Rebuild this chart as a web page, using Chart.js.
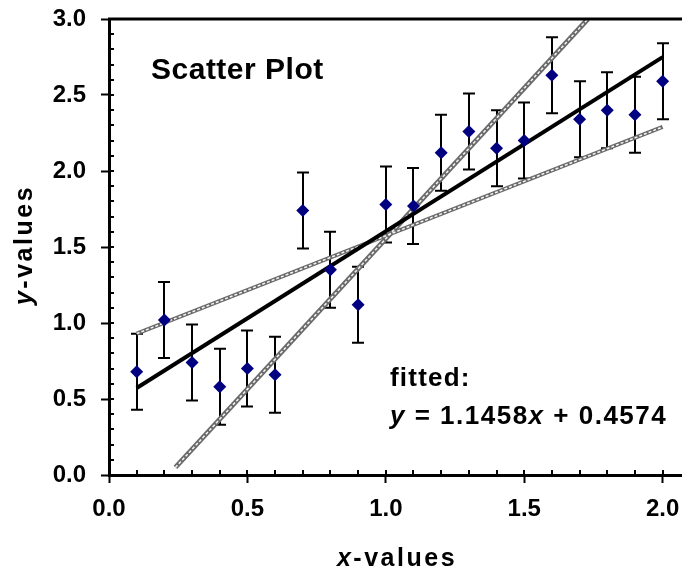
<!DOCTYPE html>
<html>
<head>
<meta charset="utf-8">
<script src="https://cdn.jsdelivr.net/npm/chart.js@4.4.1/dist/chart.umd.min.js"></script>
<style>
  html, body { margin: 0; padding: 0; background: #fff; }
</style>
</head>
<body>
<canvas id="myChart" width="682" height="571"></canvas>
<script>
// measured points
const xVals = [0.1, 0.2, 0.3, 0.4, 0.5, 0.6, 0.7, 0.8, 0.9, 1.0, 1.1, 1.2, 1.3, 1.4, 1.5, 1.6, 1.7, 1.8, 1.9, 2.0];
const yVals = [0.68, 1.02, 0.74, 0.58, 0.70, 0.66, 1.74, 1.35, 1.12, 1.78, 1.77, 2.12, 2.26, 2.15, 2.20, 2.63, 2.34, 2.40, 2.37, 2.59];
const yErr  = [0.25, 0.25, 0.25, 0.25, 0.25, 0.25, 0.25, 0.25, 0.25, 0.25, 0.25, 0.25, 0.25, 0.25, 0.25, 0.25, 0.25, 0.25, 0.25, 0.25];

// fitted line y = 1.1458x + 0.4574, end points
const fitX = [0.1, 2.0];
const fitY = [0.572, 2.749];

// steep and shallow limit lines
const steepX = [0.24, 1.73];
const steepY = [0.05, 3.0];
const flatX = [0.1, 2.0];
const flatY = [0.93, 2.29];

const xTicks = [0.0, 0.5, 1.0, 1.5, 2.0];
const yTicks = [0.0, 0.5, 1.0, 1.5, 2.0, 2.5, 3.0];

const FONT = '"Liberation Sans", Arial, sans-serif';

function pts(xs, ys) {
  return xs.map((x, i) => ({x: x, y: ys[i]}));
}

function drawParts(c, parts, x, y, size, spacing) {
  c.letterSpacing = spacing + 'px';
  parts.forEach(p => {
    c.font = (p[1] ? 'italic ' : '') + 'bold ' + size + 'px ' + FONT;
    c.fillText(p[0], x, y);
    x += c.measureText(p[0]).width;
  });
}

function partsWidth(c, parts, size, spacing) {
  c.letterSpacing = spacing + 'px';
  let w = 0;
  parts.forEach(p => {
    c.font = (p[1] ? 'italic ' : '') + 'bold ' + size + 'px ' + FONT;
    w += c.measureText(p[0]).width;
  });
  return w;
}

const decor = {
  id: 'decor',
  beforeDatasetsDraw(chart) {
    const c = chart.ctx, xs = chart.scales.x, ys = chart.scales.y;
    c.save();
    c.strokeStyle = '#000';
    c.lineWidth = 2;
    xVals.forEach((x, i) => {
      const px = Math.round(xs.getPixelForValue(x));
      const top = ys.getPixelForValue(yVals[i] + yErr[i]);
      const bot = ys.getPixelForValue(yVals[i] - yErr[i]);
      c.beginPath();
      c.moveTo(px, top); c.lineTo(px, bot);
      c.moveTo(px - 6, top); c.lineTo(px + 6, top);
      c.moveTo(px - 6, bot); c.lineTo(px + 6, bot);
      c.stroke();
    });
    c.restore();
  },
  afterDraw(chart) {
    const c = chart.ctx, a = chart.chartArea, xs = chart.scales.x, ys = chart.scales.y;
    c.save();
    c.strokeStyle = '#000';
    // top frame line
    c.lineWidth = 3;
    c.beginPath();
    c.moveTo(a.left - 1, a.top);
    c.lineTo(a.right, a.top);
    c.stroke();
    // minor ticks, inside
    c.lineWidth = 2;
    c.beginPath();
    for (let i = 1; i <= 20; i++) {
      const px = Math.round(xs.getPixelForValue(i / 10));
      c.moveTo(px, a.bottom); c.lineTo(px, a.bottom - 5);
    }
    for (let i = 1; i <= 30; i++) {
      const py = Math.round(ys.getPixelForValue(i / 10));
      c.moveTo(a.left, py); c.lineTo(a.left + 5, py);
    }
    c.stroke();

    c.fillStyle = '#000';
    c.textBaseline = 'alphabetic';
    c.textAlign = 'left';
    drawParts(c, [['Scatter Plot', false]], 151, 79, 30, 0.5);
    drawParts(c, [['fitted:', false]], 390, 386, 26, 1.2);
    drawParts(c, [['y', true], [' = 1.1458', false], ['x', true], [' + 0.4574', false]], 390, 424, 26, 1.5);

    // axis titles
    const xt = [['x', true], ['-values', false]];
    const wx = partsWidth(c, xt, 25, 2.5);
    drawParts(c, xt, 397 - wx / 2, 566, 25, 2.5);

    const yt = [['y', true], ['-values', false]];
    const wy = partsWidth(c, yt, 25, 2.5);
    c.translate(32, 245);
    c.rotate(-Math.PI / 2);
    drawParts(c, yt, -wy / 2, 0, 25, 2.5);
    c.restore();
  }
};

const tickFont = {family: FONT, size: 24, weight: 'bold'};

new Chart(document.getElementById('myChart'), {
  type: 'scatter',
  data: {
    datasets: [
      {
        data: pts(xVals, yVals),
        pointStyle: 'rectRot',
        pointRadius: 6.5,
        pointBackgroundColor: '#000080',
        pointBorderColor: '#000080',
        pointBorderWidth: 0,
        order: 0
      },
      {
        data: pts(fitX, fitY),
        showLine: true,
        borderColor: '#000',
        borderWidth: 4,
        pointRadius: 0,
        order: 1
      },
      {
        data: pts(steepX, steepY),
        showLine: true,
        borderColor: '#f4f4f4',
        borderWidth: 1.5,
        borderDash: [3, 2],
        pointRadius: 0,
        order: 2
      },
      {
        data: pts(flatX, flatY),
        showLine: true,
        borderColor: '#f4f4f4',
        borderWidth: 1.5,
        borderDash: [3, 2],
        pointRadius: 0,
        order: 2
      },
      {
        data: pts(steepX, steepY),
        showLine: true,
        borderColor: '#6a6a6a',
        borderWidth: 5,
        pointRadius: 0,
        order: 3
      },
      {
        data: pts(flatX, flatY),
        showLine: true,
        borderColor: '#6a6a6a',
        borderWidth: 4,
        pointRadius: 0,
        order: 3
      }
    ]
  },
  options: {
    responsive: false,
    animation: false,
    layout: {autoPadding: false, padding: {top: 19, left: 0, right: 0, bottom: 0}},
    plugins: {legend: {display: false}, tooltip: {enabled: false}},
    scales: {
      x: {
        type: 'linear',
        min: 0,
        max: 2.07,
        afterBuildTicks: s => { s.ticks = xTicks.map(v => ({value: v})); },
        afterFit: s => { s.height = 96; s.paddingLeft = 0; s.paddingRight = 0; },
        grid: {drawOnChartArea: false, drawTicks: true, tickLength: 8, tickColor: '#000', tickWidth: 2},
        border: {display: true, color: '#000', width: 3},
        ticks: {
          color: '#000', font: tickFont, padding: 12, maxRotation: 0, autoSkip: false,
          callback: v => v.toFixed(1)
        }
      },
      y: {
        type: 'linear',
        min: 0,
        max: 3,
        afterBuildTicks: s => { s.ticks = yTicks.map(v => ({value: v})); },
        afterFit: s => { s.width = 109; s.paddingTop = 0; s.paddingBottom = 0; },
        grid: {drawOnChartArea: false, drawTicks: true, tickLength: 8, tickColor: '#000', tickWidth: 2},
        border: {display: true, color: '#000', width: 3},
        ticks: {
          color: '#000', font: tickFont, padding: 15, autoSkip: false,
          callback: v => v.toFixed(1)
        }
      }
    }
  },
  plugins: [decor]
});
</script>
</body>
</html>
